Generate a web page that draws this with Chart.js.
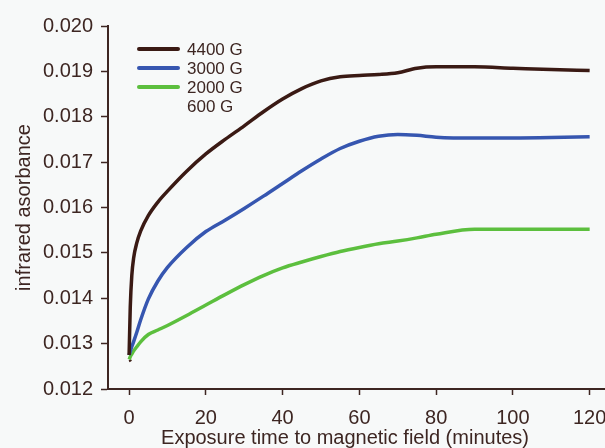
<!DOCTYPE html>
<html>
<head>
<meta charset="utf-8">
<script src="https://cdn.jsdelivr.net/npm/chart.js@4.4.0/dist/chart.umd.min.js"></script>
<style>
  html, body { margin: 0; padding: 0; background: #f7f9f9; }
  #wrap { width: 605px; height: 448px; }
</style>
</head>
<body>
<div id="wrap"><canvas id="absChart" width="605" height="448"></canvas></div>
<script>
// exposure time (minutes)
var times = [0, 0.3, 0.7, 1.2, 2, 3, 5, 7.5, 10, 15, 20, 25, 30, 35, 40, 45, 50, 55, 60, 65, 70, 75, 80, 90, 100, 110, 120];

// infrared absorbance per field strength
var g4400 = [0.01275, 0.0138, 0.0145, 0.0149, 0.01522, 0.01548, 0.01582, 0.01612, 0.01636, 0.0168, 0.01718, 0.0175, 0.0178, 0.01811, 0.01839, 0.01862, 0.01879, 0.01888, 0.01891, 0.01893, 0.01897, 0.01907, 0.0191, 0.0191, 0.01907, 0.01904, 0.01902];
var g3000 = [0.01275, 0.01283, 0.01293, 0.01305, 0.01325, 0.01352, 0.01398, 0.01438, 0.01468, 0.01512, 0.01547, 0.01572, 0.01598, 0.01625, 0.01653, 0.01681, 0.01707, 0.0173, 0.01746, 0.01757, 0.01761, 0.01759, 0.01755, 0.01753, 0.01753, 0.01754, 0.01756];
var g2000 = [0.01265, 0.01271, 0.01277, 0.01284, 0.01293, 0.01304, 0.0132, 0.0133, 0.0134, 0.01362, 0.01385, 0.01408, 0.0143, 0.0145, 0.01467, 0.0148, 0.01492, 0.01503, 0.01512, 0.0152, 0.01526, 0.01533, 0.01541, 0.01552, 0.01552, 0.01552, 0.01552];
var g600Times = [0, 0.6];
var g600 = [0.01261, 0.01264];

var seriesLabels = ['4400 G', '3000 G', '2000 G', '600 G'];
var xTicks = [0, 20, 40, 60, 80, 100, 120];
var yTicks = [0.012, 0.013, 0.014, 0.015, 0.016, 0.017, 0.018, 0.019, 0.020];
var xTitle = 'Exposure time to magnetic field (minutes)';

var ink = '#3d2622';
var colors = ['#3a1a14', '#3656b0', '#5cbf3e', '#3a1a14'];
var fam = '"Liberation Sans", Arial, sans-serif';

function pairs(xs, ys) {
  return xs.map(function (x, i) { return { x: x, y: ys[i] }; });
}

// legend inside the plot area (top left) and the x title, which sits left of centre
var extras = {
  id: 'extras',
  afterDraw: function (chart) {
    var ctx = chart.ctx;
    ctx.save();
    ctx.font = '17px ' + fam;
    ctx.textBaseline = 'middle';
    chart.data.datasets.forEach(function (ds, i) {
      var y = 49 + i * 19;
      if (ds.label !== '600 G') {
        ctx.strokeStyle = ds.borderColor;
        ctx.lineWidth = 4;
        ctx.lineCap = 'round';
        ctx.beginPath();
        ctx.moveTo(139, y);
        ctx.lineTo(178, y);
        ctx.stroke();
      }
      ctx.fillStyle = ink;
      ctx.fillText(ds.label, 187, y + 1);
    });
    ctx.font = '20px ' + fam;
    ctx.textAlign = 'center';
    ctx.fillText(xTitle, 345, 438);
    ctx.restore();
  }
};

var lineStyle = { borderWidth: 3.5, pointRadius: 0, cubicInterpolationMode: 'monotone', fill: false };

new Chart(document.getElementById('absChart'), {
  type: 'line',
  data: {
    datasets: [
      Object.assign({ label: seriesLabels[0], data: pairs(times, g4400), borderColor: colors[0] }, lineStyle),
      Object.assign({ label: seriesLabels[1], data: pairs(times, g3000), borderColor: colors[1] }, lineStyle),
      Object.assign({ label: seriesLabels[2], data: pairs(times, g2000), borderColor: colors[2] }, lineStyle),
      Object.assign({ label: seriesLabels[3], data: pairs(g600Times, g600), borderColor: colors[3] }, lineStyle, { borderWidth: 2 })
    ]
  },
  options: {
    responsive: false,
    animation: false,
    layout: { padding: { top: 26, right: 0, left: 0, bottom: 0 } },
    plugins: { legend: { display: false }, tooltip: { enabled: false } },
    scales: {
      x: {
        type: 'linear',
        min: -5.5,
        max: 124,
        afterBuildTicks: function (scale) {
          scale.ticks = xTicks.map(function (v) { return { value: v }; });
        },
        afterFit: function (scale) {
          scale.height = 59;
          scale.paddingLeft = 0;
          scale.paddingRight = 0;
        },
        grid: { drawOnChartArea: false, drawTicks: true, tickLength: 6, tickWidth: 1.5, color: ink },
        border: { color: ink, width: 2 },
        ticks: { color: ink, font: { size: 20, family: fam }, padding: 11, maxRotation: 0 }
      },
      y: {
        min: 0.012,
        max: 0.020,
        afterBuildTicks: function (scale) {
          scale.ticks = yTicks.map(function (v) { return { value: v }; });
        },
        afterFit: function (scale) {
          scale.width = 108;
          scale.paddingTop = 0;
          scale.paddingBottom = 0;
        },
        grid: { drawOnChartArea: false, drawTicks: true, tickLength: 7, tickWidth: 1.5, color: ink },
        border: { color: ink, width: 2 },
        ticks: {
          color: ink,
          font: { size: 20, family: fam },
          padding: 8,
          callback: function (v) { return v.toFixed(3); }
        },
        title: {
          display: true,
          text: 'infrared asorbance',
          color: ink,
          font: { size: 20, family: fam },
          padding: { top: 12, bottom: 0 }
        }
      }
    }
  },
  plugins: [extras]
});
</script>
</body>
</html>
